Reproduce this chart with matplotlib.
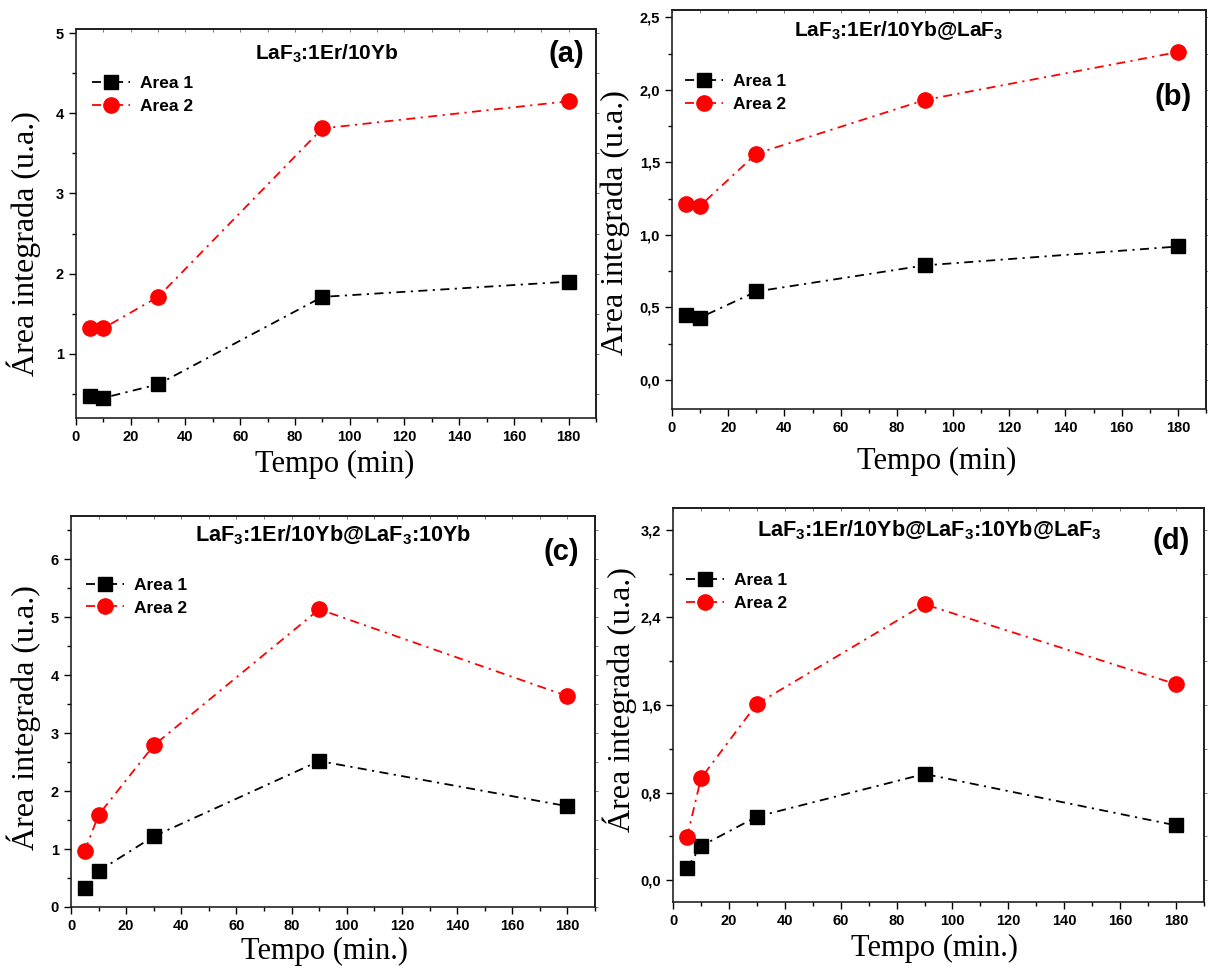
import matplotlib
matplotlib.use("Agg")
import matplotlib.pyplot as plt
from matplotlib.ticker import MultipleLocator, FuncFormatter, NullFormatter

# Reaction time (minutes)
time_min = [5, 10, 30, 90, 180]

# Integrated areas for each sample
area1_a = [0.47, 0.45, 0.62, 1.71, 1.90]
area2_a = [1.32, 1.32, 1.71, 3.81, 4.15]

area1_b = [0.45, 0.43, 0.61, 0.79, 0.92]
area2_b = [1.21, 1.20, 1.56, 1.93, 2.26]

area1_c = [0.32, 0.62, 1.22, 2.52, 1.74]
area2_c = [0.97, 1.59, 2.79, 5.14, 3.64]

area1_d = [0.11, 0.31, 0.58, 0.97, 0.50]
area2_d = [0.39, 0.93, 1.61, 2.52, 1.79]

titles = [r"LaF$_3$:1Er/10Yb",
          r"LaF$_3$:1Er/10Yb@LaF$_3$",
          r"LaF$_3$:1Er/10Yb@LaF$_3$:10Yb",
          r"LaF$_3$:1Er/10Yb@LaF$_3$:10Yb@LaF$_3$"]
letters = ["(a)", "(b)", "(c)", "(d)"]
xlabels = ["Tempo (min)", "Tempo (min)", "Tempo (min.)", "Tempo (min.)"]
ylabels = ["Área integrada (u.a.)", "Area integrada (u.a.)",
           "Área integrada (u.a.)", "Área integrada (u.a.)"]
series_names = ["Area 1", "Area 2"]

plt.rcParams["font.family"] = "Liberation Sans"
plt.rcParams["mathtext.fontset"] = "custom"
plt.rcParams["mathtext.rm"] = "Liberation Sans:bold"
plt.rcParams["mathtext.default"] = "rm"

W, H = 1208, 966
fig = plt.figure(figsize=(W / 100, H / 100), dpi=100)


def px_axes(left, top, right, bottom):
    return [left / W, 1 - bottom / H, (right - left) / W, (bottom - top) / H]


layout = [
    dict(rect=px_axes(76, 29, 596, 418), ylim=(0.2, 5.05), ymaj=1.0, ymin=0.5, comma=False,
         title=(0.483, 0.920), tsize=15, letter=(0.943, 0.936), legend=(0.031, 0.879),
         xl=(0.498, -0.082), yl=(-0.067, 0.449)),
    dict(rect=px_axes(672, 10, 1206, 409), ylim=(-0.2, 2.55), ymaj=0.5, ymin=0.25, comma=True,
         title=(0.424, 0.935), tsize=15, letter=(0.9375, 0.783), legend=(0.024, 0.840),
         xl=(0.495, -0.095), yl=(-0.0785, 0.467)),
    dict(rect=px_axes(71, 516, 595, 907), ylim=(0.0, 6.75), ymaj=1.0, ymin=0.5, comma=False,
         title=(0.500, 0.934), tsize=15.6, letter=(0.936, 0.909), legend=(0.029, 0.842),
         xl=(0.483, -0.076), yl=(-0.057, 0.485)),
    dict(rect=px_axes(673, 508, 1204, 902), ylim=(-0.2, 3.4), ymaj=0.8, ymin=0.4, comma=True,
         title=(0.482, 0.927), tsize=15.6, letter=(0.938, 0.916), legend=(0.025, 0.835),
         xl=(0.493, -0.080), yl=(-0.068, 0.513)),
]

data = [(area1_a, area2_a), (area1_b, area2_b), (area1_c, area2_c), (area1_d, area2_d)]

dashdot = (0, (5, 3, 1.2, 3))
comma_fmt = FuncFormatter(lambda v, p: f"{v:.1f}".replace(".", ",").replace("-0,0", "0,0"))

for i, cfg in enumerate(layout):
    ax = fig.add_axes(cfg["rect"])
    s1, s2 = data[i]
    ax.plot(time_min, s1, color="black", marker="s", ms=9.8, ls=dashdot, lw=1.3,
            label=series_names[0])
    ax.plot(time_min, s2, color="red", marker="o", ms=11, ls=dashdot, lw=1.3,
            label=series_names[1])

    ax.set_xlim(0, 190)
    ax.set_ylim(*cfg["ylim"])
    ax.xaxis.set_major_locator(MultipleLocator(20))
    ax.xaxis.set_minor_locator(MultipleLocator(10))
    ax.yaxis.set_major_locator(MultipleLocator(cfg["ymaj"]))
    ax.yaxis.set_minor_locator(MultipleLocator(cfg["ymin"]))
    if cfg["comma"]:
        ax.yaxis.set_major_formatter(comma_fmt)

    ax.tick_params(which="major", direction="out", length=4.7, width=1.0,
                   labelsize=10.5, pad=4)
    ax.tick_params(which="minor", direction="out", length=2.6, width=1.0)
    for lbl in ax.get_xticklabels() + ax.get_yticklabels():
        lbl.set_fontweight("bold")
    for sp in ax.spines.values():
        sp.set_linewidth(1.2)
        sp.set_color("#222222")

    # faint ticks on the top and right frame
    top = ax.secondary_xaxis("top")
    top.xaxis.set_major_locator(MultipleLocator(10))
    top.xaxis.set_major_formatter(NullFormatter())
    top.tick_params(direction="in", length=2, width=0.6, colors="#666666")
    right = ax.secondary_yaxis("right")
    right.yaxis.set_major_locator(MultipleLocator(cfg["ymin"]))
    right.yaxis.set_major_formatter(NullFormatter())
    right.tick_params(direction="out", length=2, width=0.6, colors="#666666")
    top.spines["top"].set_linewidth(1.2)
    right.spines["right"].set_linewidth(1.2)

    ax.set_xlabel(xlabels[i], family="Liberation Serif", fontsize=22)
    ax.xaxis.set_label_coords(*cfg["xl"])
    ax.set_ylabel(ylabels[i], family="Liberation Serif", fontsize=23)
    ax.yaxis.set_label_coords(*cfg["yl"])

    ax.text(*cfg["title"], titles[i], transform=ax.transAxes, ha="center",
            va="baseline", fontsize=cfg["tsize"], fontweight="bold")
    ax.text(*cfg["letter"], letters[i], transform=ax.transAxes, ha="center",
            va="center", fontsize=21, fontweight="bold")

    ax.legend(loc="upper left", bbox_to_anchor=cfg["legend"], frameon=False,
              prop={"family": "Liberation Sans", "weight": "bold", "size": 12.5},
              handlelength=2.2, handletextpad=0.55, labelspacing=0.43,
              borderpad=0, borderaxespad=0)

fig.savefig("out.png", dpi=100)
